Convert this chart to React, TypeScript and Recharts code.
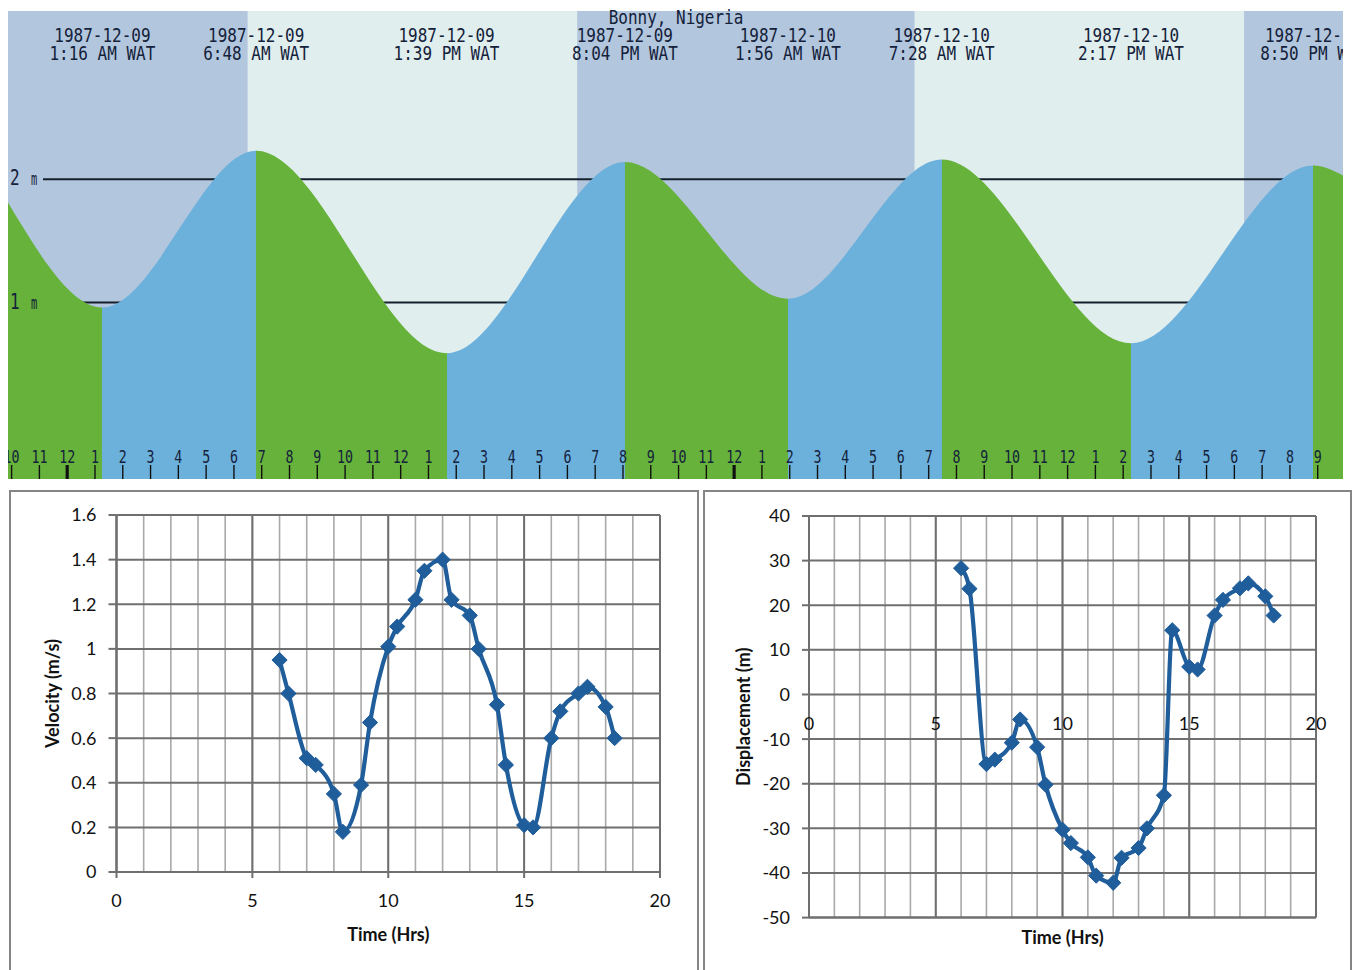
import React from 'react';
import {
  ComposedChart,
  LineChart,
  Line,
  Area,
  XAxis,
  YAxis,
  CartesianGrid,
  ReferenceArea,
  ReferenceLine,
  ReferenceDot,
} from 'recharts';

// ---------------- Tide chart: Bonny, Nigeria ----------------
// time = hours from 1987-12-09 00:00 WAT, height in metres
const tideTimes = [-2.13, 1.267, 6.8, 13.65, 20.067, 25.933, 31.467, 38.283, 44.833, 45.91];
const tideHeights = [1.81, 0.96, 2.23, 0.59, 2.14, 1.03, 2.16, 0.67, 2.11, 2.03];

const extremeTimes = [1.267, 6.8, 13.65, 20.067, 25.933, 31.467, 38.283, 44.833];
const extremeDates = [
  '1987-12-09', '1987-12-09', '1987-12-09', '1987-12-09',
  '1987-12-10', '1987-12-10', '1987-12-10', '1987-12-10',
];
const extremeClock = [
  '1:16 AM WAT', '6:48 AM WAT', '1:39 PM WAT', '8:04 PM WAT',
  '1:56 AM WAT', '7:28 AM WAT', '2:17 PM WAT', '8:50 PM WAT',
];

const bandStarts = [-2.13, 6.5, 18.35, 30.5, 42.35];
const bandEnds = [6.5, 18.35, 30.5, 42.35, 45.91];
const bandIsNight = [true, false, true, false, true];

const levelValues = [2, 1];
const levelNames = ['2', '1'];
const levelLineStart = -0.87;

const hourTicks = [
  -2, -1, 0, 1, 2, 3, 4, 5, 6, 7, 8, 9, 10, 11, 12, 13, 14, 15, 16, 17, 18, 19, 20, 21, 22, 23,
  24, 25, 26, 27, 28, 29, 30, 31, 32, 33, 34, 35, 36, 37, 38, 39, 40, 41, 42, 43, 44, 45,
];
const tideXDomain = [-2.13, 45.91];
const tideYDomain = [-0.43, 3.363];
const tideTitle = 'Bonny, Nigeria';

// ---------------- Measured velocity / displacement ----------------
const obsTime = [
  6, 6.33, 7, 7.33, 8, 8.33, 9, 9.33, 10, 10.33, 11, 11.33, 12, 12.33, 13, 13.33,
  14, 14.33, 15, 15.33, 16, 16.33, 17, 17.33, 18, 18.33,
];
const velocity = [
  0.95, 0.8, 0.51, 0.48, 0.35, 0.18, 0.39, 0.67, 1.01, 1.1, 1.22, 1.35, 1.4, 1.22, 1.15, 1.0,
  0.75, 0.48, 0.21, 0.2, 0.6, 0.72, 0.8, 0.83, 0.74, 0.6,
];
const displacement = [
  28.3, 23.7, -15.6, -14.6, -10.8, -5.6, -11.8, -20.2, -30.3, -33.3, -36.5, -40.6, -42.2, -36.6,
  -34.4, -30.0, -22.6, 14.4, 6.2, 5.6, 17.7, 21.2, 23.8, 24.9, 22.0, 17.7,
];
const hourGridTicks = [0, 1, 2, 3, 4, 5, 6, 7, 8, 9, 10, 11, 12, 13, 14, 15, 16, 17, 18, 19, 20];
const majorHourTicks = [0, 5, 10, 15, 20];
const velTicks = [0, 0.2, 0.4, 0.6, 0.8, 1, 1.2, 1.4, 1.6];
const dispTicks = [-50, -40, -30, -20, -10, 0, 10, 20, 30, 40];

// ---------------- styles ----------------
const NIGHT = '#b2c6dd';
const DAY = '#e0eeee';
const RISE = '#6cb0dc';
const FALL = '#66b23b';
const TIDE_TEXT = '#14213a';
const MONO = '"DejaVu Sans Mono", monospace';
const XL = 'Lato, "Open Sans", sans-serif';
const SERIES = '#1f5d9b';
const GRID_DARK = '#6f6f6f';
const GRID_LIGHT = '#a9a9a9';

const tideData = tideTimes.map((t, i) => ({ t, h: tideHeights[i] }));
const velData = obsTime.map((t, i) => ({ t, v: velocity[i] }));
const dispData = obsTime.map((t, i) => ({ t, d: displacement[i] }));

const tideStops = (() => {
  const t0 = tideTimes[0];
  const span = tideTimes[tideTimes.length - 1] - t0;
  const stops: { off: number; color: string }[] = [];
  for (let i = 0; i < tideTimes.length - 1; i++) {
    const color = tideHeights[i + 1] > tideHeights[i] ? RISE : FALL;
    stops.push({ off: (tideTimes[i] - t0) / span, color });
    stops.push({ off: (tideTimes[i + 1] - t0) / span, color });
  }
  return stops;
})();

const HourTick = (props: any) => {
  const { x, y, payload } = props;
  const h = payload.value as number;
  const label = ((h % 12) + 12) % 12 || 12;
  const midnight = ((h % 24) + 24) % 24 === 0;
  return (
    <g>
      <line x1={x} x2={x} y1={y - 14} y2={y} stroke="#111" strokeWidth={midnight ? 3.2 : 1.4} />
      <text
        transform={`translate(${x} ${y - 16}) scale(1 1.35)`}
        textAnchor="middle"
        fontFamily={MONO}
        fontSize={13.3}
        fill={TIDE_TEXT}
      >
        {label}
      </text>
    </g>
  );
};

const makeExtremeLabel = (i: number) => (props: any) => {
  const { cx, cy } = props;
  return (
    <g>
      <text transform={`translate(${cx} ${cy + 31}) scale(1 1.2)`} textAnchor="middle" fontFamily={MONO} fontSize={16} fill={TIDE_TEXT}>
        {extremeDates[i]}
      </text>
      <text transform={`translate(${cx} ${cy + 49}) scale(1 1.2)`} textAnchor="middle" fontFamily={MONO} fontSize={16} fill={TIDE_TEXT}>
        {extremeClock[i]}
      </text>
    </g>
  );
};

const makeLevelLabel = (i: number) => (props: any) => {
  const { cx, cy } = props;
  return (
    <g>
      <text transform={`translate(${cx + 2} ${cy + 6}) scale(1 1.3)`} fontFamily={MONO} fontSize={16} fill={TIDE_TEXT}>
        {levelNames[i]}
      </text>
      <text transform={`translate(${cx + 23} ${cy + 6}) scale(0.8 1.3)`} fontFamily={MONO} fontSize={13} fill={TIDE_TEXT}>
        m
      </text>
    </g>
  );
};

const Diamond = (props: any) => {
  const { cx, cy, index } = props;
  if (cx == null || cy == null) return <g key={index} />;
  const s = 7.6;
  return (
    <path
      key={index}
      d={`M${cx},${cy - s}L${cx + s},${cy}L${cx},${cy + s}L${cx - s},${cy}Z`}
      fill={SERIES}
      stroke={SERIES}
      strokeWidth={1}
    />
  );
};

const makeXTick = (showBelow: boolean) => (props: any) => {
  const { x, y, payload } = props;
  const v = payload.value as number;
  if (!showBelow || !majorHourTicks.includes(v)) return <g />;
  return (
    <g>
      <line x1={x} x2={x} y1={y} y2={y + 6} stroke={GRID_DARK} strokeWidth={2} />
      <text x={x} y={y + 28} textAnchor="middle" dominantBaseline="central" fontFamily={XL} fontSize={18} fill="#111">
        {v}
      </text>
    </g>
  );
};

const yTitle = (text: string, dx: number) => (props: any) => {
  const vb = props.viewBox || {};
  const x = (vb.x ?? 0) + dx;
  const y = (vb.y ?? 0) + (vb.height ?? 0) / 2;
  return (
    <text
      x={x}
      y={y}
      transform={`rotate(-90 ${x} ${y})`}
      textAnchor="middle"
      dominantBaseline="central"
      fontFamily={XL}
      fontWeight="bold"
      fontSize={18}
      fill="#111"
    >
      {text}
    </text>
  );
};

const xTitle = (text: string, dy: number) => (props: any) => {
  const vb = props.viewBox || {};
  const x = (vb.x ?? 0) + (vb.width ?? 0) / 2;
  const y = (vb.y ?? 0) + dy;
  return (
    <text x={x} y={y} textAnchor="middle" dominantBaseline="central" fontFamily={XL} fontWeight="bold" fontSize={18} fill="#111">
      {text}
    </text>
  );
};

const makeZeroLabel = (v: number) => (props: any) => {
  const { cx, cy } = props;
  return (
    <text x={cx} y={cy + 29} textAnchor="middle" dominantBaseline="central" fontFamily={XL} fontSize={18} fill="#111">
      {v}
    </text>
  );
};

function TideChart() {
  return (
    <ComposedChart width={1335} height={470} data={tideData} margin={{ top: 0, right: 0, bottom: 0, left: 0 }}>
      <defs>
        <linearGradient id="tideFill" x1="0" y1="0" x2="1" y2="0">
          {tideStops.map((s, i) => (
            <stop key={i} offset={s.off} stopColor={s.color} />
          ))}
        </linearGradient>
      </defs>
      <XAxis
        dataKey="t"
        type="number"
        domain={tideXDomain}
        allowDataOverflow
        ticks={hourTicks}
        interval={0}
        height={2}
        tickSize={0}
        tickMargin={0}
        axisLine={false}
        tickLine={false}
        tick={<HourTick />}
      />
      <YAxis type="number" domain={tideYDomain} allowDataOverflow hide />
      {bandStarts.map((s, i) => (
        <ReferenceArea
          key={`b${i}`}
          x1={s}
          x2={bandEnds[i]}
          fill={bandIsNight[i] ? NIGHT : DAY}
          fillOpacity={1}
          stroke="none"
          ifOverflow="hidden"
          zIndex={-60}
        />
      ))}
      {levelValues.map((v, i) => (
        <ReferenceLine
          key={`l${i}`}
          segment={[
            { x: levelLineStart, y: v },
            { x: tideXDomain[1], y: v },
          ]}
          stroke="#15202c"
          strokeWidth={2}
          zIndex={-30}
        />
      ))}
      <Area
        dataKey="h"
        type="monotone"
        baseValue="dataMin"
        stroke="none"
        fill="url(#tideFill)"
        fillOpacity={1}
        isAnimationActive={false}
        dot={false}
        activeDot={false}
      />
      {levelValues.map((v, i) => (
        <ReferenceDot key={`ll${i}`} x={tideXDomain[0]} y={v} r={0} ifOverflow="visible" shape={makeLevelLabel(i)} zIndex={2000} />
      ))}
      {extremeTimes.map((t, i) => (
        <ReferenceDot key={`e${i}`} x={t} y={tideYDomain[1]} r={0} ifOverflow="visible" shape={makeExtremeLabel(i)} zIndex={2000} />
      ))}
    </ComposedChart>
  );
}

function VelocityChart() {
  return (
    <LineChart width={700} height={480} data={velData} margin={{ top: 25, right: 40, left: 56.5, bottom: 68 }}>
      <CartesianGrid horizontal={false} stroke={GRID_LIGHT} strokeWidth={1.6} />
      <CartesianGrid vertical={false} stroke={GRID_DARK} strokeWidth={2} />
      {majorHourTicks.map((v) => (
        <ReferenceLine key={v} x={v} stroke={GRID_DARK} strokeWidth={2} zIndex={-90} />
      ))}
      <XAxis
        dataKey="t"
        type="number"
        domain={[0, 20]}
        ticks={hourGridTicks}
        interval={0}
        height={30}
        tickSize={0}
        tickMargin={0}
        tickLine={false}
        axisLine={{ stroke: GRID_DARK, strokeWidth: 2 }}
        tick={makeXTick(true)}
        label={xTitle('Time (Hrs)', 62)}
      />
      <YAxis
        type="number"
        domain={[0, 1.6]}
        ticks={velTicks}
        interval={0}
        width={60}
        tickSize={8}
        tickMargin={12}
        axisLine={{ stroke: GRID_DARK, strokeWidth: 2 }}
        tickLine={{ stroke: GRID_DARK, strokeWidth: 2 }}
        tick={{ fontFamily: XL, fontSize: 18, fill: '#111' }}
        label={yTitle('Velocity (m/s)', -4.5)}
      />
      <Line
        dataKey="v"
        type="monotone"
        stroke={SERIES}
        strokeWidth={4.2}
        dot={Diamond}
        activeDot={false}
        isAnimationActive={false}
      />
    </LineChart>
  );
}

function DisplacementChart() {
  return (
    <LineChart width={656} height={480} data={dispData} margin={{ top: 26, right: 40, left: 49, bottom: 22.4 }}>
      <CartesianGrid horizontal={false} stroke={GRID_LIGHT} strokeWidth={1.6} />
      <CartesianGrid vertical={false} stroke={GRID_DARK} strokeWidth={2} />
      {majorHourTicks.map((v) => (
        <ReferenceLine key={v} x={v} stroke={GRID_DARK} strokeWidth={2} zIndex={-90} />
      ))}
      <XAxis
        dataKey="t"
        type="number"
        domain={[0, 20]}
        ticks={hourGridTicks}
        interval={0}
        height={30}
        tickSize={0}
        tickMargin={0}
        tickLine={false}
        axisLine={{ stroke: GRID_DARK, strokeWidth: 2 }}
        tick={makeXTick(false)}
        label={xTitle('Time (Hrs)', 19.5)}
      />
      <YAxis
        type="number"
        domain={[-50, 40]}
        ticks={dispTicks}
        interval={0}
        width={60}
        tickSize={7}
        tickMargin={12}
        axisLine={{ stroke: GRID_DARK, strokeWidth: 2 }}
        tickLine={{ stroke: GRID_DARK, strokeWidth: 2 }}
        tick={{ fontFamily: XL, fontSize: 18, fill: '#111' }}
        label={yTitle('Displacement (m)', -6)}
      />
      <Line
        dataKey="d"
        type="monotone"
        stroke={SERIES}
        strokeWidth={4.2}
        dot={Diamond}
        activeDot={false}
        isAnimationActive={false}
      />
      {majorHourTicks.map((v) => (
        <ReferenceDot key={`z${v}`} x={v} y={0} r={0} ifOverflow="visible" shape={makeZeroLabel(v)} zIndex={2000} />
      ))}
    </LineChart>
  );
}

export default function App() {
  return (
    <div
      style={{
        position: 'absolute',
        left: 0,
        top: 0,
        width: 1356,
        height: 970,
        background: '#ffffff',
        overflow: 'hidden',
      }}
    >
      <div style={{ position: 'absolute', left: 8, top: 11 }}>
        <TideChart />
      </div>
      <svg style={{ position: 'absolute', left: 0, top: 0, pointerEvents: 'none' }} width={1356} height={40}>
        <text transform="translate(676 24) scale(1 1.2)" textAnchor="middle" fontFamily={MONO} fontSize={16} fill={TIDE_TEXT}>
          {tideTitle}
        </text>
      </svg>
      <div
        style={{
          position: 'absolute',
          left: 9,
          top: 490,
          width: 686,
          height: 500,
          border: '2px solid #858585',
        }}
      />
      <div
        style={{
          position: 'absolute',
          left: 703,
          top: 490,
          width: 645,
          height: 500,
          border: '2px solid #858585',
        }}
      />
      <div style={{ position: 'absolute', left: 0, top: 490 }}>
        <VelocityChart />
      </div>
      <div style={{ position: 'absolute', left: 700, top: 490 }}>
        <DisplacementChart />
      </div>
    </div>
  );
}
